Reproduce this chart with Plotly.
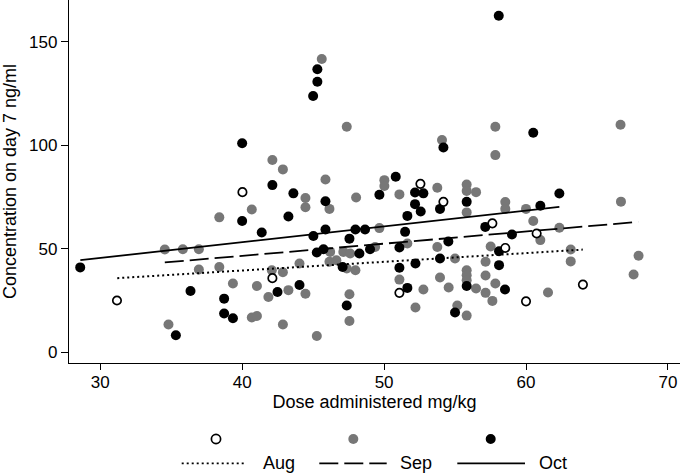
import plotly.graph_objects as go

# ---------------- data ----------------
aug_dose = [31.18, 40.02, 42.13, 52.56, 54.18, 51.08, 57.63, 58.54, 60.75, 60.0, 64.01]
aug_conc = [24.9, 77.3, 35.7, 81.3, 72.6, 28.6, 62.2, 50.3, 57.3, 24.5, 32.6]

sep_dose = [34.55, 34.81, 35.82, 36.95, 36.95, 38.39, 38.39, 39.35, 40.68, 40.68,
            41.04, 41.04, 41.85, 42.09, 42.13, 42.87, 42.87, 42.87, 43.26, 44.04,
            44.46, 44.46, 44.46, 45.26, 45.61, 45.87, 46.15, 46.15, 46.2, 46.64,
            47.13, 47.37, 47.37, 47.56, 47.56, 47.61, 47.98, 48.03, 49.37, 49.67,
            50.02, 50.02, 51.08, 51.08, 51.64, 52.21, 52.77, 53.75, 53.75, 53.94,
            54.08, 54.55, 55.0, 55.16, 55.82, 55.82, 55.82, 55.82, 55.82, 55.82,
            55.82, 56.48, 56.48, 57.15, 57.15, 57.15, 57.51, 57.63, 57.84, 57.84,
            57.84, 58.54, 58.54, 60.0, 60.51, 61.01, 61.55, 62.35, 63.15, 63.15,
            66.66, 66.69, 67.58, 67.93]
sep_conc = [49.6, 13.3, 49.7, 49.7, 39.9, 65.1, 41.1, 33.1, 68.9, 16.7,
            17.4, 31.9, 26.6, 39.5, 92.8, 88.3, 38.6, 13.3, 29.9, 42.8,
            74.5, 70.0, 28.2, 7.7, 141.7, 83.4, 69.2, 43.6, 48.4, 44.4,
            48.4, 108.9, 40.4, 27.9, 15.0, 47.6, 39.5, 74.7, 50.8, 59.9,
            83.1, 80.3, 76.2, 35.0, 52.5, 21.5, 30.2, 79.4, 50.8, 36.0,
            102.5, 31.2, 45.2, 22.5, 81.0, 77.9, 67.5, 39.5, 37.1, 34.7,
            17.6, 77.3, 30.7, 43.6, 37.0, 28.6, 51.0, 24.7, 108.9, 95.2,
            33.1, 72.5, 69.2, 69.2, 63.3, 54.1, 28.8, 60.1, 49.6, 43.8,
            109.9, 72.7, 37.5, 46.5]

oct_dose = [28.59, 35.33, 36.36, 38.73, 38.73, 39.35, 40.0, 40.0, 41.38, 42.13,
            42.49, 43.26, 43.61, 44.04, 45.0, 45.3, 45.3, 45.02, 45.26, 45.73,
            45.87, 45.87, 47.08, 47.37, 47.56, 47.98, 48.26, 48.66, 49.01, 49.67,
            50.82, 51.08, 51.08, 51.48, 51.64, 51.64, 52.18, 52.18, 52.58, 52.77,
            52.21, 53.94, 54.18, 53.94, 54.53, 55.0, 55.82, 55.82, 57.13, 58.08,
            58.1, 58.1, 58.52, 59.01, 60.51, 61.01, 62.35]
oct_conc = [40.9, 8.1, 29.5, 25.8, 18.6, 16.3, 100.9, 63.3, 57.8, 80.7,
            29.0, 65.5, 76.7, 32.4, 123.8, 130.7, 136.7, 56.1, 48.1, 49.7,
            72.9, 59.2, 41.1, 22.5, 54.8, 59.2, 47.6, 59.2, 49.7, 76.0,
            84.7, 50.5, 40.7, 58.1, 65.8, 31.0, 77.1, 71.5, 67.9, 76.7,
            42.8, 69.2, 98.9, 45.2, 53.4, 19.1, 72.6, 31.9, 60.5, 162.6,
            48.7, 42.0, 30.2, 56.8, 106.0, 70.7, 76.6]

# fitted lines (end points)
aug_fit_x = [31.2, 64.0]
aug_fit_y = [35.7, 49.5]
sep_fit_x = [34.55, 67.9]
sep_fit_y = [43.3, 62.9]
oct_fit_x = [28.6, 62.35]
oct_fit_y = [44.4, 70.2]

months = ["Aug", "Sep", "Oct"]
x_ticks = [30, 40, 50, 60, 70]
y_ticks = [0, 50, 100, 150]

# ---------------- styles ----------------
GRAY = "#777777"
FONT = "Liberation Sans, Arial, Helvetica, sans-serif"
W, H = 680, 475
ML, MR, MT, MB = 69, 0, 0, 112

fig = go.Figure()
fig.add_trace(go.Scatter(x=sep_dose, y=sep_conc, mode="markers", name="Sep",
                         marker=dict(size=10, color=GRAY, line=dict(width=0)),
                         showlegend=False))
fig.add_trace(go.Scatter(x=oct_dose, y=oct_conc, mode="markers", name="Oct",
                         marker=dict(size=10, color="black", line=dict(width=0)),
                         showlegend=False))
fig.add_trace(go.Scatter(x=aug_dose, y=aug_conc, mode="markers", name="Aug",
                         marker=dict(size=8.4, color="white", line=dict(width=1.7, color="black")),
                         showlegend=False))
fig.add_trace(go.Scatter(x=aug_fit_x, y=aug_fit_y, mode="lines", name="Aug fit",
                         line=dict(color="black", width=2, dash="2px,3px"), showlegend=False))
fig.add_trace(go.Scatter(x=sep_fit_x, y=sep_fit_y, mode="lines", name="Sep fit",
                         line=dict(color="black", width=1.8, dash="19px,6px"), showlegend=False))
fig.add_trace(go.Scatter(x=oct_fit_x, y=oct_fit_y, mode="lines", name="Oct fit",
                         line=dict(color="black", width=1.8), showlegend=False))

# ---------------- manual legend (two rows, as in the reference) ----------------
pw = W - ML - MR
ph = H - MT - MB

def px_x(p):
    return (p - ML) / pw

def px_y(p):
    return (H - MB - p) / ph

shapes = []
annotations = []
marker_px = [216, 353.3, 490.7]
marker_styles = [dict(fill="white", line="black", r=4.6, lw=1.7),
                 dict(fill=GRAY, line=GRAY, r=5, lw=0),
                 dict(fill="black", line="black", r=5, lw=0)]
for mx, st in zip(marker_px, marker_styles):
    shapes.append(dict(type="circle", xref="paper", yref="paper",
                       xsizemode="pixel", ysizemode="pixel",
                       xanchor=px_x(mx), yanchor=px_y(439),
                       x0=-st["r"], x1=st["r"], y0=-st["r"], y1=st["r"],
                       fillcolor=st["fill"],
                       line=dict(color=st["line"], width=st["lw"])))

line_px = [(181.7, 246.7), (319.3, 386.7), (457.3, 525)]
dashes = ["2px,3px", "19px,6px", "solid"]
text_px = [261, 398.3, 536.7]
for (a, b), d, tx, m in zip(line_px, dashes, text_px, months):
    shapes.append(dict(type="line", xref="paper", yref="paper",
                       x0=px_x(a), x1=px_x(b), y0=px_y(463.3), y1=px_y(463.3),
                       line=dict(color="black", width=1.8, dash=d)))
    annotations.append(dict(text=m, xref="paper", yref="paper", x=px_x(tx), y=px_y(463.3),
                            xanchor="left", yanchor="middle", showarrow=False,
                            font=dict(size=18, color="black", family=FONT)))

fig.update_layout(
    width=W, height=H,
    margin=dict(l=ML, r=MR, t=MT, b=MB, pad=0),
    paper_bgcolor="white", plot_bgcolor="white",
    font=dict(family=FONT, color="black"),
    showlegend=False,
    shapes=shapes,
    annotations=annotations,
    xaxis=dict(range=[27.8, 70.85], tickvals=x_ticks, ticktext=[str(v) for v in x_ticks],
               ticks="outside", ticklen=6, tickwidth=1.3, tickcolor="black",
               ticklabelstandoff=-3,
               showline=True, linecolor="black", linewidth=1.3,
               showgrid=False, zeroline=False, tickfont=dict(size=17),
               title=dict(text="Dose administered mg/kg", font=dict(size=18), standoff=2)),
    yaxis=dict(range=[-5.32, 170.2], tickvals=y_ticks, ticktext=[str(v) for v in y_ticks],
               ticks="outside", ticklen=7, tickwidth=1.3, tickcolor="black",
               showline=True, linecolor="black", linewidth=1.3,
               showgrid=False, zeroline=False, tickfont=dict(size=17),
               title=dict(text="Concentration on day 7 ng/ml", font=dict(size=18), standoff=8)),
)

fig.write_html("out.html", config={"displayModeBar": False},
               post_script="document.body.style.margin='0px';document.body.style.overflow='hidden';")
